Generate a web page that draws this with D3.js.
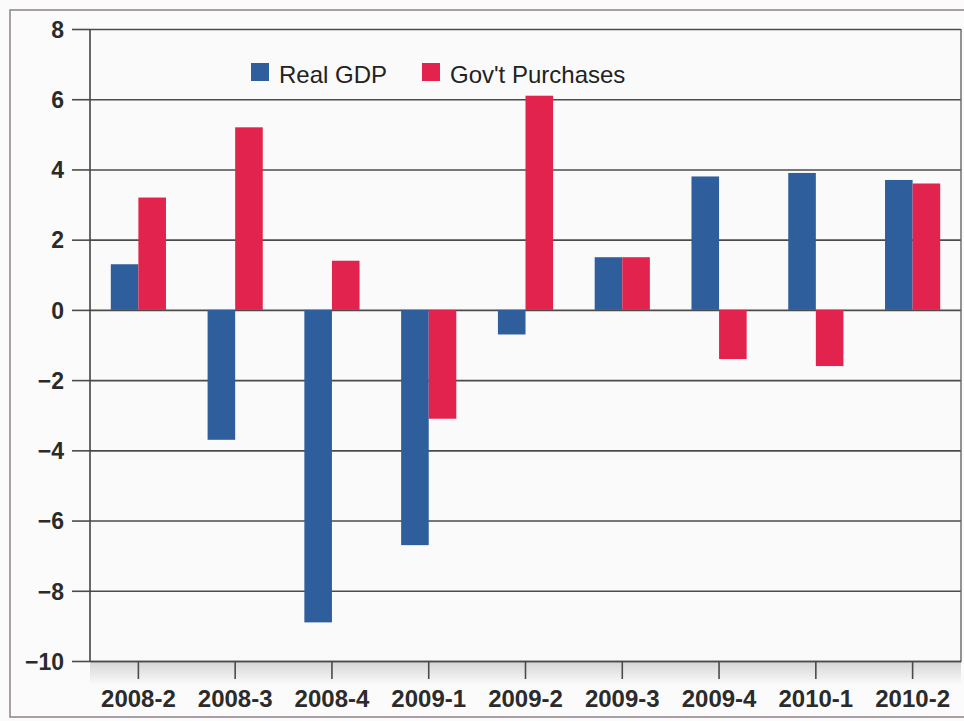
<!DOCTYPE html>
<html>
<head>
<meta charset="utf-8">
<script src="https://cdn.jsdelivr.net/npm/d3@7"></script>
<style>
  html, body { margin: 0; padding: 0; background: #fbfbfb; }
  svg { display: block; }
  text { font-family: "Liberation Sans", Arial, Helvetica, sans-serif; fill: #2b2b2b; }
</style>
</head>
<body>
<svg id="chart" width="964" height="721"></svg>
<script>
// Quarterly growth rates, percent (annualized)
const quarters = ["2008-2", "2008-3", "2008-4", "2009-1", "2009-2", "2009-3", "2009-4", "2010-1", "2010-2"];
const realGDP = [1.3, -3.7, -8.9, -6.7, -0.7, 1.5, 3.8, 3.9, 3.7];
const govPurchases = [3.2, 5.2, 1.4, -3.1, 6.1, 1.5, -1.4, -1.6, 3.6];
const seriesNames = ["Real GDP", "Gov't Purchases"];
const seriesColors = ["#2e5e9c", "#e2234d"];
const yTicks = [-10, -8, -6, -4, -2, 0, 2, 4, 6, 8];

const series = [realGDP, govPurchases];
const rows = quarters.map((q, i) => ({ q, values: series.map((s, k) => ({ k, v: s[i] })) }));

const svg = d3.select("#chart");
const plot = { left: 90, right: 961, top: 29, bottom: 661 };

const x0 = d3.scaleBand().domain(quarters)
  .range([plot.left, plot.right]).paddingInner(0.43).paddingOuter(0.215);
const x1 = d3.scaleBand().domain(d3.range(series.length)).range([0, x0.bandwidth()]);
const y = d3.scaleLinear().domain([-10, 8]).range([plot.bottom, plot.top]);

// outer frame
svg.append("rect")
  .attr("x", 10).attr("y", 10).attr("width", 990).attr("height", 707)
  .attr("fill", "none").attr("stroke", "#8e8088").attr("stroke-width", 1.5);

// plot background
svg.append("rect")
  .attr("x", plot.left).attr("y", plot.top)
  .attr("width", plot.right - plot.left).attr("height", plot.bottom - plot.top)
  .attr("fill", "#fafafa");

// soft shading under the category axis
const defs = svg.append("defs");
const grad = defs.append("linearGradient").attr("id", "under").attr("x1", 0).attr("y1", 0).attr("x2", 0).attr("y2", 1);
grad.append("stop").attr("offset", "0%").attr("stop-color", "#d4d4d4");
grad.append("stop").attr("offset", "100%").attr("stop-color", "#fbfbfb");
svg.append("rect")
  .attr("x", plot.left).attr("y", plot.bottom)
  .attr("width", plot.right - plot.left).attr("height", 24)
  .attr("fill", "url(#under)");

// horizontal gridlines with left ticks
const yAxis = d3.axisLeft(y).tickValues(yTicks)
  .tickSize(-(plot.right - plot.left)).tickSizeOuter(0).tickPadding(0)
  .tickFormat(d3.format("d"));
const gy = svg.append("g").attr("transform", `translate(${plot.left},0)`).call(yAxis);
gy.select(".domain").remove();
gy.selectAll(".tick line").attr("stroke", "#4b4b4b").attr("stroke-width", 1.6);
gy.selectAll(".tick").append("line")
  .attr("x1", -18).attr("x2", 0).attr("stroke", "#4b4b4b").attr("stroke-width", 1.6);
gy.selectAll(".tick text")
  .attr("x", -26).attr("dy", "0.36em")
  .style("font-size", "23px").style("font-weight", "bold").style("fill", "#2b2b2b");

// vertical axis line and right border
svg.append("line")
  .attr("x1", plot.left).attr("x2", plot.left).attr("y1", plot.top).attr("y2", plot.bottom)
  .attr("stroke", "#444").attr("stroke-width", 1.6);
svg.append("line")
  .attr("x1", plot.right).attr("x2", plot.right).attr("y1", plot.top).attr("y2", plot.bottom)
  .attr("stroke", "#666").attr("stroke-width", 1.4);

// bars
const groups = svg.append("g").selectAll("g").data(rows).join("g")
  .attr("transform", d => `translate(${x0(d.q)},0)`);
groups.selectAll("rect").data(d => d.values).join("rect")
  .attr("x", d => x1(d.k))
  .attr("width", x1.bandwidth())
  .attr("y", d => y(Math.max(0, d.v)))
  .attr("height", d => Math.abs(y(d.v) - y(0)))
  .attr("fill", d => seriesColors[d.k]);

// category axis
const xAxis = d3.axisBottom(x0).tickSize(18).tickSizeOuter(0).tickPadding(11);
const gx = svg.append("g").attr("transform", `translate(0,${plot.bottom})`).call(xAxis);
gx.select(".domain").attr("stroke", "#4b4b4b").attr("stroke-width", 1.6);
gx.selectAll(".tick line").attr("stroke", "#4b4b4b").attr("stroke-width", 1.6);
gx.selectAll(".tick text")
  .style("font-size", "24px").style("font-weight", "bold").style("fill", "#2b2b2b");

// legend
const legendPos = [251, 422];
const legend = svg.append("g").selectAll("g").data(seriesNames).join("g")
  .attr("transform", (d, i) => `translate(${legendPos[i]},63)`);
legend.append("rect").attr("width", 18).attr("height", 18)
  .attr("fill", (d, i) => seriesColors[i]);
legend.append("text").attr("x", 28).attr("y", 19.5)
  .style("font-size", "24px").style("fill", "#222")
  .text(d => d);
</script>
</body>
</html>
